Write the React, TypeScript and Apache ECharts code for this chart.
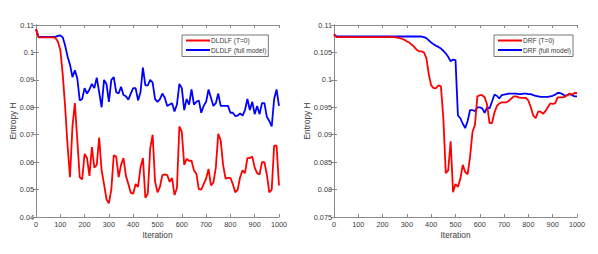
import React, { useEffect, useRef } from "react";
import * as echarts from "echarts";

const iterations: number[] = Array.from({ length: 101 }, (_, i) => i * 10);

const dldfT0: number[] = [
  0.1085, 0.1055, 0.1055, 0.1055, 0.1055, 0.1055, 0.1055, 0.1055, 0.1053, 0.104,
  0.101, 0.092, 0.08, 0.066, 0.0545, 0.073, 0.0815, 0.068, 0.0545, 0.0537,
  0.063, 0.0615, 0.055, 0.0655, 0.058, 0.059, 0.069, 0.057, 0.052, 0.0465,
  0.045, 0.05, 0.0625, 0.062, 0.0545, 0.059, 0.0615, 0.055, 0.052, 0.0488,
  0.0485, 0.052, 0.051, 0.058, 0.0615, 0.047, 0.0485, 0.065, 0.07, 0.053,
  0.049, 0.051, 0.0553, 0.0555, 0.0553, 0.0528, 0.0542, 0.048, 0.0505, 0.073,
  0.071, 0.059, 0.0612, 0.0605, 0.0605, 0.057, 0.0558, 0.0502, 0.05, 0.052,
  0.054, 0.0575, 0.0515, 0.0525, 0.058, 0.0703, 0.068, 0.059, 0.054, 0.0543,
  0.0543, 0.052, 0.049, 0.05, 0.0545, 0.057, 0.056, 0.0615, 0.0615, 0.062,
  0.058, 0.056, 0.0555, 0.06, 0.06, 0.0555, 0.049, 0.05, 0.066, 0.066,
  0.0515,
];

const dldfFull: number[] = [
  0.1085, 0.1057, 0.1057, 0.1057, 0.1057, 0.1057, 0.1057, 0.1057, 0.1057, 0.106,
  0.1062, 0.1055, 0.1025, 0.0985, 0.0955, 0.091, 0.0935, 0.0905, 0.0825, 0.083,
  0.087, 0.085, 0.0865, 0.0885, 0.087, 0.0908, 0.0855, 0.08, 0.09, 0.0885,
  0.082, 0.09, 0.091, 0.0855, 0.085, 0.0875, 0.0845, 0.084, 0.0828, 0.085,
  0.087, 0.087, 0.0825, 0.0855, 0.0945, 0.088, 0.088, 0.09, 0.089, 0.083,
  0.082, 0.083, 0.085, 0.0835, 0.0805, 0.081, 0.0815, 0.0785, 0.081, 0.0885,
  0.087, 0.079, 0.083, 0.081, 0.0865, 0.081, 0.082, 0.0825, 0.078, 0.0805,
  0.082, 0.0865, 0.0835, 0.0805, 0.0815, 0.085, 0.0805, 0.0805, 0.0805, 0.0805,
  0.078, 0.078, 0.0768, 0.077, 0.0778, 0.077, 0.079, 0.083, 0.079, 0.082,
  0.0775, 0.0805, 0.0775, 0.0815, 0.0815, 0.0765, 0.075, 0.073, 0.083, 0.0865,
  0.0805,
];

const drfT0: number[] = [
  0.1083, 0.1078, 0.1078, 0.1078, 0.1078, 0.1078, 0.1078, 0.1078, 0.1078, 0.1078,
  0.1078, 0.1078, 0.1078, 0.1078, 0.1078, 0.1078, 0.1078, 0.1078, 0.1078, 0.1078,
  0.1078, 0.1078, 0.1078, 0.1078, 0.1078, 0.1078, 0.1077, 0.1076, 0.1075, 0.1073,
  0.107, 0.1068, 0.1064, 0.106, 0.1055, 0.1052, 0.1052, 0.105, 0.104, 0.101,
  0.099, 0.0985, 0.0985, 0.099, 0.0988, 0.093, 0.083, 0.0835, 0.0888, 0.0795,
  0.081, 0.0805, 0.082, 0.0845, 0.0832, 0.0828, 0.086, 0.0905, 0.0918, 0.097,
  0.0972, 0.0972, 0.0968, 0.0955, 0.0921, 0.0921, 0.094, 0.0952, 0.0957, 0.0959,
  0.0959, 0.0959, 0.0962, 0.0966, 0.097, 0.097, 0.0968, 0.0967, 0.0967, 0.0967,
  0.0962, 0.095, 0.0935, 0.093, 0.0942, 0.0942, 0.0938, 0.0943, 0.095, 0.0957,
  0.0956, 0.0957, 0.0968, 0.0968, 0.0968, 0.0969, 0.0972, 0.0975, 0.0973, 0.0976,
  0.0976,
];

const drfFull: number[] = [
  0.1083, 0.1079, 0.1079, 0.1079, 0.1079, 0.1079, 0.1079, 0.1079, 0.1079, 0.1079,
  0.1079, 0.1079, 0.1079, 0.1079, 0.1079, 0.1079, 0.1079, 0.1079, 0.1079, 0.1079,
  0.1079, 0.1079, 0.1079, 0.1079, 0.1079, 0.1079, 0.1079, 0.1079, 0.1079, 0.1079,
  0.1079, 0.1079, 0.1079, 0.1079, 0.1079, 0.1079, 0.1079, 0.1078, 0.1076, 0.1072,
  0.1068, 0.1065, 0.1062, 0.106, 0.1057, 0.1053, 0.1048, 0.1042, 0.1034, 0.1037,
  0.1036, 0.0935, 0.093, 0.092, 0.0912, 0.0925, 0.0945, 0.0945, 0.0943, 0.095,
  0.095, 0.0948, 0.094, 0.095, 0.0948, 0.096, 0.0973, 0.0971, 0.0966, 0.0972,
  0.0973, 0.0974, 0.0975, 0.0975, 0.0975, 0.0975, 0.0974, 0.0974, 0.0975, 0.0975,
  0.0974, 0.0974, 0.0972, 0.0971, 0.097, 0.0969, 0.0969, 0.0969, 0.0969, 0.097,
  0.0971, 0.0973, 0.0976, 0.0976, 0.0974, 0.0971, 0.0972, 0.0974, 0.0972, 0.097,
  0.097,
];

const seriesNames = {
  leftRed: "DLDLF (T=0)",
  leftBlue: "DLDLF (full model)",
  rightRed: "DRF (T=0)",
  rightBlue: "DRF (full model)",
};

const xName = "Iteration";
const yName = "Entropy H";

const AXIS_COLOR = "#8a8a8a";
const TEXT_COLOR = "#3a3a3a";
const FONT = "Liberation Sans, Arial, sans-serif";

const fmt = (v: number) => String(parseFloat(v.toFixed(4)));
const fmtX = (v: number) => String(Math.round(v));

function pair(arrX: number[], arrY: number[]) {
  return arrX.map((x, i) => [x, arrY[i]]);
}

export default function App() {
  const ref = useRef<HTMLDivElement>(null);

  useEffect(() => {
    if (!ref.current) return;
    const chart = echarts.init(ref.current, undefined, { renderer: "svg" });

    const grids = [
      { left: 36, top: 25, width: 243, height: 192 },
      { left: 334, top: 25, width: 243, height: 192 },
    ];

    const mainX = (gi: number) => ({
      type: "value",
      gridIndex: gi,
      min: 0,
      max: 1000,
      interval: 100,
      name: xName,
      nameLocation: "middle",
      nameGap: 14,
      nameMoveOverlap: false,
      nameTextStyle: { color: TEXT_COLOR, fontSize: 8.3, fontFamily: FONT },
      axisLine: { show: true, lineStyle: { color: AXIS_COLOR, width: 1 } },
      axisTick: { show: true, inside: true, length: 3, lineStyle: { color: AXIS_COLOR } },
      axisLabel: { color: TEXT_COLOR, fontSize: 7.3, fontFamily: FONT, margin: 3.5, formatter: fmtX },
      splitLine: { show: false },
    });
    const topX = (gi: number) => ({
      type: "value",
      gridIndex: gi,
      position: "top",
      min: 0,
      max: 1000,
      interval: 100,
      axisLine: { show: true, lineStyle: { color: AXIS_COLOR, width: 1 } },
      axisTick: { show: true, inside: true, length: 3, lineStyle: { color: AXIS_COLOR } },
      axisLabel: { show: false },
      splitLine: { show: false },
    });
    const mainY = (gi: number, min: number, max: number, interval: number, gap: number) => ({
      type: "value",
      gridIndex: gi,
      min,
      max,
      interval,
      name: yName,
      nameLocation: "middle",
      nameGap: gap,
      nameMoveOverlap: false,
      nameTextStyle: { color: TEXT_COLOR, fontSize: 8.3, fontFamily: FONT },
      axisLine: { show: true, lineStyle: { color: AXIS_COLOR, width: 1 } },
      axisTick: { show: true, inside: true, length: 3, lineStyle: { color: AXIS_COLOR } },
      axisLabel: { color: TEXT_COLOR, fontSize: 7.3, fontFamily: FONT, margin: 2, formatter: fmt },
      splitLine: { show: false },
    });
    const rightY = (gi: number, min: number, max: number, interval: number) => ({
      type: "value",
      gridIndex: gi,
      position: "right",
      min,
      max,
      interval,
      axisLine: { show: true, lineStyle: { color: AXIS_COLOR, width: 1 } },
      axisTick: { show: true, inside: true, length: 3, lineStyle: { color: AXIS_COLOR } },
      axisLabel: { show: false },
      splitLine: { show: false },
    });

    const line = (name: string, data: number[], color: string, xi: number, yi: number) => ({
      type: "line",
      name,
      xAxisIndex: xi,
      yAxisIndex: yi,
      data: pair(iterations, data),
      symbol: "none",
      lineStyle: { color, width: 1.8 },
      itemStyle: { color },
      z: color === "#ff0000" ? 3 : 2,
    });

    const legend = (left: number, data: string[]) => ({
      left,
      top: 35,
      orient: "vertical",
      data,
      icon: "rect",
      itemGap: 1.5,
      itemWidth: 24,
      itemHeight: 2,
      padding: [1.5, 2, 2.5, 4],
      borderColor: "#555",
      borderWidth: 0.8,
      backgroundColor: "#ffffff",
      textStyle: {
        color: TEXT_COLOR,
        fontSize: 6.6,
        lineHeight: 8,
        fontFamily: FONT,
        padding: [0, 0, 0, -4],
      },
    });

    chart.setOption({
      animation: false,
      backgroundColor: "#ffffff",
      grid: grids,
      xAxis: [mainX(0), topX(0), mainX(1), topX(1)],
      yAxis: [
        mainY(0, 0.04, 0.11, 0.01, 19),
        rightY(0, 0.04, 0.11, 0.01),
        mainY(1, 0.075, 0.11, 0.005, 23),
        rightY(1, 0.075, 0.11, 0.005),
      ],
      legend: [
        legend(182, [seriesNames.leftRed, seriesNames.leftBlue]),
        legend(494, [seriesNames.rightRed, seriesNames.rightBlue]),
      ],
      series: [
        line(seriesNames.leftBlue, dldfFull, "#0000ff", 0, 0),
        line(seriesNames.leftRed, dldfT0, "#ff0000", 0, 0),
        line(seriesNames.rightRed, drfT0, "#ff0000", 2, 2),
        line(seriesNames.rightBlue, drfFull, "#0000ff", 2, 2),
      ],
    });

    return () => chart.dispose();
  }, []);

  return (
    <div
      ref={ref}
      style={{ position: "fixed", left: 0, top: 0, width: 598, height: 254, background: "#fff" }}
    />
  );
}
